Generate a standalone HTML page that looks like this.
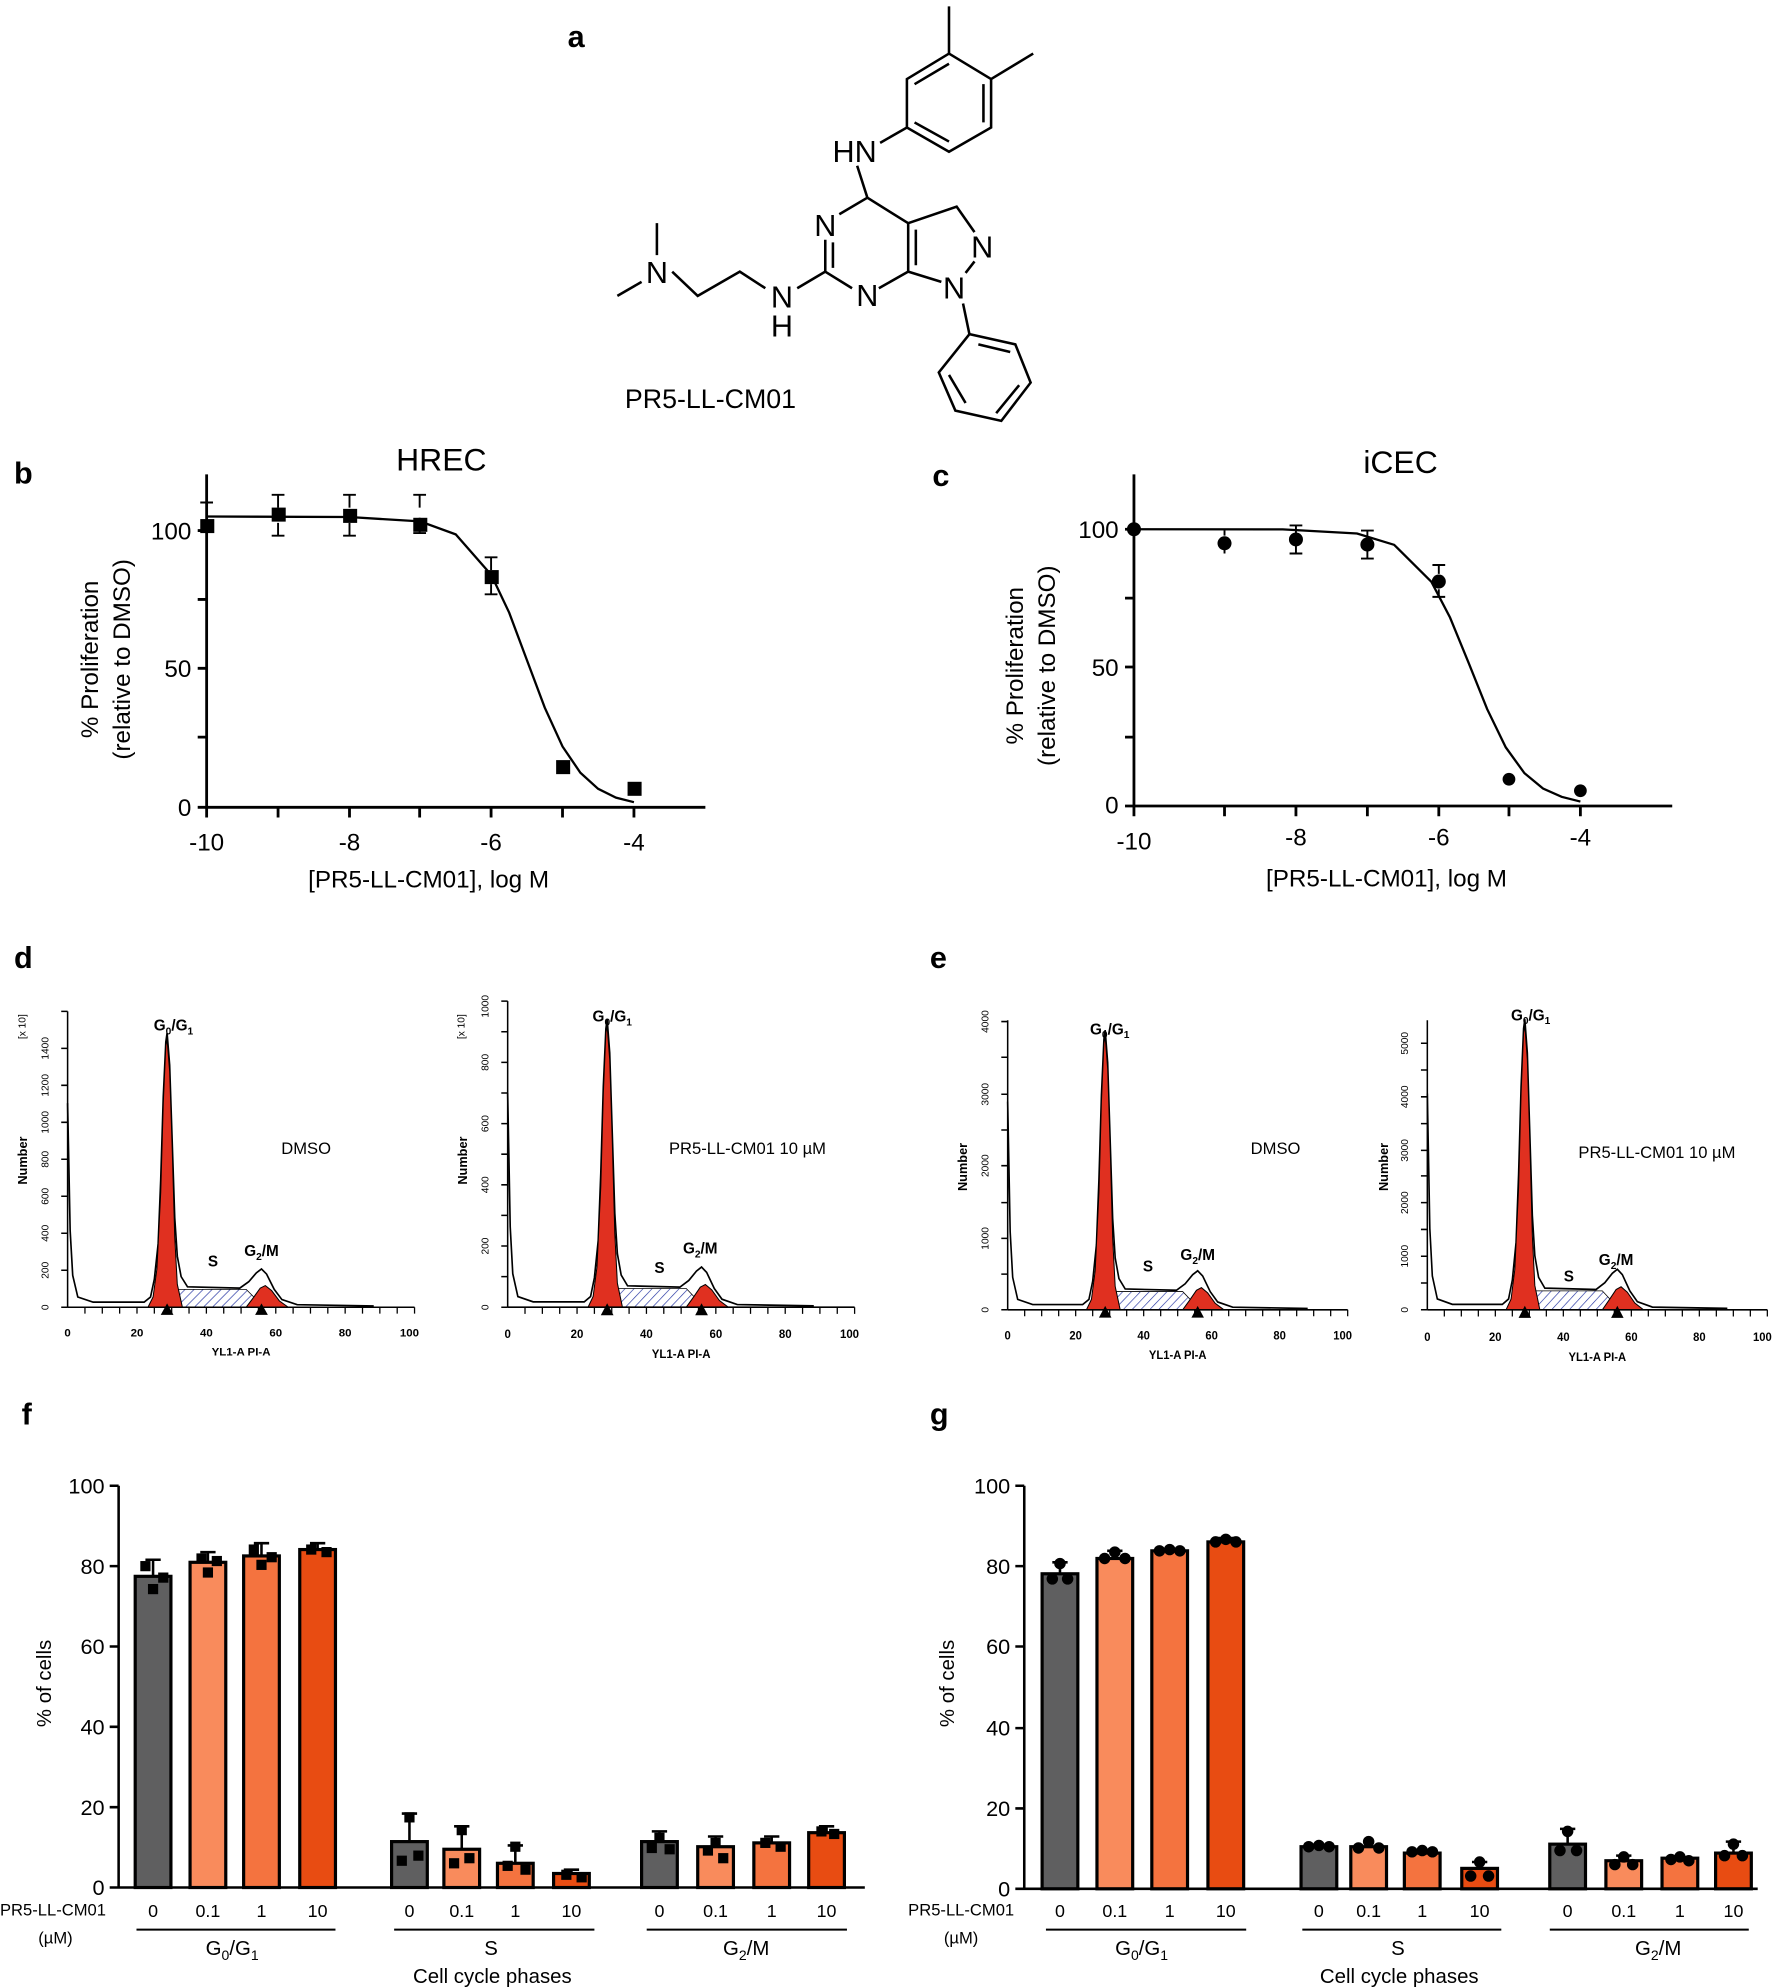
<!DOCTYPE html>
<html><head><meta charset="utf-8"><style>
html,body{margin:0;padding:0;background:#fff}
svg{display:block}
text{font-family:"Liberation Sans",Arial,sans-serif}
</style></head><body>
<svg width="1773" height="1987" viewBox="0 0 1390 1558" preserveAspectRatio="none" xmlns="http://www.w3.org/2000/svg">
<defs>
<pattern id="hatch" width="5" height="5" patternUnits="userSpaceOnUse" patternTransform="rotate(45)"><line x1="0" y1="0" x2="0" y2="5" stroke="#2030a0" stroke-width="1"/></pattern>
<g id="hist">
<path d="M70,-2 L80,-14 L140,-14 L150,-4 L140,0 L80,0Z" fill="url(#hatch)" stroke="#000" stroke-width="0.6"/>
<path d="M0,-160 L2,-60 L4,-25 L8,-8 L20,-4 L60,-4 L65,-8 L68,-22 L71,-50 L73,-100 L75,-165 L77,-208 L78,-215 L80,-190 L82,-130 L84,-70 L86,-40 L89,-24 L94,-16 L135,-15 L142,-20 L148,-27 L152,-30 L156,-26 L162,-14 L168,-6 L180,-2 L240,-1" fill="none" stroke="#000" stroke-width="1.3"/>
<path d="M63,0 L67,-8 L70,-30 L73,-90 L75,-160 L77,-205 L78,-210 L80,-185 L82,-125 L84,-55 L86,-18 L90,0Z" fill="#e03020" stroke="#000" stroke-width="0.8"/>
<path d="M140,0 L146,-8 L151,-15 L155,-17 L160,-13 L166,-5 L173,0Z" fill="#e03020" stroke="#000" stroke-width="0.8"/>
<path d="M73,6 l5,-9 l5,9Z M147,6 l5,-9 l5,9Z" fill="#000"/>
<line x1="0" y1="0" x2="272" y2="0" stroke="#000" stroke-width="1.2"/>
<path d="M13.6,0v5M27.2,0v5M40.8,0v5M54.4,0v5M68,0v5M81.6,0v5M95.2,0v5M108.8,0v5M122.4,0v5M136,0v5M149.6,0v5M163.2,0v5M176.8,0v5M190.4,0v5M204,0v5M217.6,0v5M231.2,0v5M244.8,0v5M258.4,0v5M272,0v5" stroke="#000" stroke-width="1"/>
<g font-size="9" font-weight="bold" text-anchor="middle">
<text x="0" y="23">0</text><text x="54.4" y="23">20</text><text x="108.8" y="23">40</text><text x="163.2" y="23">60</text><text x="217.6" y="23">80</text><text x="268" y="23">100</text>
<text x="136" y="38">YL1-A PI-A</text></g>
</g>
</defs>

<g font-size="24" font-weight="bold">
<text x="445" y="37">a</text><text x="11" y="379">b</text><text x="731" y="381">c</text>
<text x="11" y="759">d</text><text x="729" y="759">e</text><text x="17" y="1117">f</text><text x="729" y="1117">g</text></g>

<g stroke="#000" stroke-width="2" fill="none">
<path d="M711,62 L744,42 L777,62 L777,100 L744,119 L711,100Z"/>
<path d="M717,66 L744,50 M771,66 L771,96 M744,111 L717,96"/>
<path d="M744,42 L744,5 M777,62 L810,42 M711,100 L690,112"/>
<path d="M672,130 L680,155 L712,175 L712,213 L689,226 M680,155 L658,168 M647,188 L647,213 L668,226 M712,175 L750,162 L764,182 M764,205 L757,214 M712,213 L738,221 M718,180 L718,208 M653,190 L653,210"/>
<path d="M647,213 L625,226 M600,226 L580,213 L547,232 L527,213 M515,200 L515,175 M503,221 L484,232"/>
<path d="M755,238 L760,262"/>
<path d="M760,262 L796,270 L808,300 L785,330 L749,322 L736,292Z M767,270 L792,276 M799,302 L781,324 M744,294 L757,316"/>
</g>
<g font-size="24" text-anchor="middle">
<text x="670" y="127">HN</text><text x="647" y="185">N</text><text x="680" y="240">N</text>
<text x="770" y="202">N</text><text x="748" y="234">N</text><text x="613" y="241">N</text><text x="613" y="264">H</text>
<text x="515" y="222">N</text></g>
<text x="557" y="320" font-size="21" text-anchor="middle">PR5-LL-CM01</text>

<g stroke="#000" stroke-width="2.2" fill="none">
<path d="M162,372 V633 H553"/>
<path d="M155,416h7M155,470h7M155,524h7M155,578h7M155,633h7M162,633v8M218,633v8M274,633v8M329,633v8M385,633v8M441,633v8M497,633v8"/>
<path d="M162,405 L273.6,405.4 L329.4,408.8 L357.3,419 L385.2,450.9 L399.2,480.4 L413.1,517.6 L427.1,554.9 L441,585.3 L455,605.9 L468.9,618.5 L482.9,625.4 L497,629" stroke-width="1.8"/>
<path d="M162,402v-8M157,394h10M162,412v6 M218,398v-10M213,388h10M218,410v10M213,420h10 M274,398v-10M269,388h10M274,410v10M269,420h10 M329,398v-10M324,388h10M329,406v12M324,418h10 M385,447v-10M380,437h10M385,458v8M380,466h10" stroke-width="1.5"/>
</g>
<g fill="#000"><rect x="157" y="407" width="11" height="11"/><rect x="213" y="398" width="11" height="11"/><rect x="269" y="399" width="11" height="11"/><rect x="324" y="406" width="11" height="11"/><rect x="380" y="447" width="11" height="11"/><rect x="436" y="596" width="11" height="11"/><rect x="492" y="613" width="11" height="11"/></g>
<g font-size="19" text-anchor="end"><text x="150" y="423">100</text><text x="150" y="531">50</text><text x="150" y="640">0</text></g>
<g font-size="19" text-anchor="middle"><text x="162" y="667">-10</text><text x="274" y="667">-8</text><text x="385" y="667">-6</text><text x="497" y="667">-4</text>
<text x="336" y="696">[PR5-LL-CM01], log M</text><text x="346" y="369" font-size="25">HREC</text>
<text transform="translate(77,517) rotate(-90)">% Proliferation</text><text transform="translate(102,517) rotate(-90)">(relative to DMSO)</text></g>

<g stroke="#000" stroke-width="2.2" fill="none">
<path d="M889,372 V632 H1311"/>
<path d="M882,415h7M882,469h7M882,523h7M882,578h7M882,632h7M889,632v8M960,632v8M1016,632v8M1072,632v8M1128,632v8M1183,632v8M1239,632v8"/>
<path d="M889,415 L1005.6,415.1 L1063.9,418.3 L1093,427.2 L1122.2,456.2 L1136.8,484.2 L1151.4,519.8 L1165.9,556 L1180.5,586 L1195.1,606.2 L1209.7,618.3 L1224.3,624.8 L1239,628.5" stroke-width="1.8"/>
<path d="M1016,418v-6M1011,412h10M1016,428v6M1011,434h10 M1072,422v-6M1067,416h10M1072,432v6M1067,438h10 M1128,450v-7M1123,443h10M1128,462v6M1123,468h10 M960,420v-4M960,430v4" stroke-width="1.5"/>
</g>
<g fill="#000"><circle cx="889" cy="415" r="5.5"/><circle cx="960" cy="426" r="5.5"/><circle cx="1016" cy="423" r="5.5"/><circle cx="1072" cy="427" r="5.5"/><circle cx="1128" cy="456" r="5.5"/><circle cx="1183" cy="611" r="5"/><circle cx="1239" cy="620" r="5"/></g>
<g font-size="19" text-anchor="end"><text x="877" y="422">100</text><text x="877" y="530">50</text><text x="877" y="638">0</text></g>
<g font-size="19" text-anchor="middle"><text x="889" y="666">-10</text><text x="1016" y="663">-8</text><text x="1128" y="663">-6</text><text x="1239" y="663">-4</text>
<text x="1087" y="695">[PR5-LL-CM01], log M</text><text x="1098" y="371" font-size="25">iCEC</text>
<text transform="translate(802,522) rotate(-90)">% Proliferation</text><text transform="translate(827,522) rotate(-90)">(relative to DMSO)</text></g>

<use href="#hist" transform="translate(53,1025)"/>
<use href="#hist" transform="translate(398,1025) scale(1,1.05)"/>
<use href="#hist" transform="translate(790,1027) scale(0.98,1.02)"/>
<use href="#hist" transform="translate(1119,1027) scale(0.98,1.06)"/>
<g stroke="#000" stroke-width="1.2">
<path d="M53,793V1025M398,785V1025M790,800V1027M1119,800V1027"/>
<path d="M48,1025h5M48,996h5M48,967h5M48,938h5M48,909h5M48,880h5M48,851h5M48,822h5M48,793h5"/>
<path d="M393,1025h5M393,1001h5M393,977h5M393,953h5M393,929h5M393,905h5M393,881h5M393,857h5M393,833h5M393,809h5M393,785h5"/>
<path d="M785,1027h5M785,999h5M785,971h5M785,943h5M785,914h5M785,886h5M785,858h5M785,829h5M785,801h5"/>
<path d="M1114,1027h5M1114,1006h5M1114,985h5M1114,964h5M1114,943h5M1114,922h5M1114,902h5M1114,881h5M1114,860h5M1114,839h5M1114,818h5"/>
</g>
<g font-size="8" text-anchor="middle">
<text transform="translate(38,1025) rotate(-90)">0</text><text transform="translate(38,996) rotate(-90)">200</text><text transform="translate(38,967) rotate(-90)">400</text><text transform="translate(38,938) rotate(-90)">600</text><text transform="translate(38,909) rotate(-90)">800</text><text transform="translate(38,880) rotate(-90)">1000</text><text transform="translate(38,851) rotate(-90)">1200</text><text transform="translate(38,822) rotate(-90)">1400</text><text transform="translate(20,805) rotate(-90)">[x 10]</text>
<text transform="translate(383,1025) rotate(-90)">0</text><text transform="translate(383,977) rotate(-90)">200</text><text transform="translate(383,929) rotate(-90)">400</text><text transform="translate(383,881) rotate(-90)">600</text><text transform="translate(383,833) rotate(-90)">800</text><text transform="translate(383,789) rotate(-90)">1000</text><text transform="translate(364,805) rotate(-90)">[x 10]</text>
<text transform="translate(775,1027) rotate(-90)">0</text><text transform="translate(775,971) rotate(-90)">1000</text><text transform="translate(775,914) rotate(-90)">2000</text><text transform="translate(775,858) rotate(-90)">3000</text><text transform="translate(775,801) rotate(-90)">4000</text>
<text transform="translate(1104,1027) rotate(-90)">0</text><text transform="translate(1104,985) rotate(-90)">1000</text><text transform="translate(1104,943) rotate(-90)">2000</text><text transform="translate(1104,902) rotate(-90)">3000</text><text transform="translate(1104,860) rotate(-90)">4000</text><text transform="translate(1104,818) rotate(-90)">5000</text>
</g>
<g font-size="10" font-weight="bold" text-anchor="middle">
<text transform="translate(21,910) rotate(-90)">Number</text><text transform="translate(366,910) rotate(-90)">Number</text><text transform="translate(758,915) rotate(-90)">Number</text><text transform="translate(1088,915) rotate(-90)">Number</text></g>
<g font-size="12" font-weight="bold" text-anchor="middle">
<text x="136" y="808">G<tspan font-size="8" dy="3">0</tspan><tspan dy="-3">/G</tspan><tspan font-size="8" dy="3">1</tspan></text>
<text x="167" y="993">S</text><text x="205" y="985">G<tspan font-size="8" dy="3">2</tspan><tspan dy="-3">/M</tspan></text>
<text x="480" y="801">G<tspan font-size="8" dy="3">0</tspan><tspan dy="-3">/G</tspan><tspan font-size="8" dy="3">1</tspan></text>
<text x="517" y="998">S</text><text x="549" y="983">G<tspan font-size="8" dy="3">2</tspan><tspan dy="-3">/M</tspan></text>
<text x="870" y="811">G<tspan font-size="8" dy="3">0</tspan><tspan dy="-3">/G</tspan><tspan font-size="8" dy="3">1</tspan></text>
<text x="900" y="997">S</text><text x="939" y="988">G<tspan font-size="8" dy="3">2</tspan><tspan dy="-3">/M</tspan></text>
<text x="1200" y="800">G<tspan font-size="8" dy="3">0</tspan><tspan dy="-3">/G</tspan><tspan font-size="8" dy="3">1</tspan></text>
<text x="1230" y="1005">S</text><text x="1267" y="992">G<tspan font-size="8" dy="3">2</tspan><tspan dy="-3">/M</tspan></text>
</g>
<g font-size="13" text-anchor="middle"><text x="240" y="905">DMSO</text><text x="586" y="905">PR5-LL-CM01 10 µM</text><text x="1000" y="905">DMSO</text><text x="1299" y="908">PR5-LL-CM01 10 µM</text></g>

<g stroke="#000" stroke-width="2.5">
<rect x="106" y="1236" width="28" height="244" fill="#5f5f60"/>
<rect x="149" y="1225" width="28" height="255" fill="#f98b5c"/>
<rect x="191" y="1220" width="28" height="260" fill="#f4733f"/>
<rect x="235" y="1215" width="28" height="265" fill="#e84c12"/>
<rect x="307" y="1444" width="28" height="36" fill="#5f5f60"/>
<rect x="348" y="1450" width="28" height="30" fill="#f98b5c"/>
<rect x="390" y="1461" width="28" height="19" fill="#f4733f"/>
<rect x="434" y="1469" width="28" height="11" fill="#e84c12"/>
<rect x="503" y="1444" width="28" height="36" fill="#5f5f60"/>
<rect x="547" y="1448" width="28" height="32" fill="#f98b5c"/>
<rect x="591" y="1445" width="28" height="35" fill="#f4733f"/>
<rect x="634" y="1437" width="28" height="43" fill="#e84c12"/>
<rect x="817" y="1234" width="28" height="247" fill="#5f5f60"/>
<rect x="860" y="1222" width="28" height="259" fill="#f98b5c"/>
<rect x="903" y="1216" width="28" height="265" fill="#f4733f"/>
<rect x="947" y="1209" width="28" height="272" fill="#e84c12"/>
<rect x="1020" y="1448" width="28" height="33" fill="#5f5f60"/>
<rect x="1059" y="1448" width="28" height="33" fill="#f98b5c"/>
<rect x="1101" y="1453" width="28" height="28" fill="#f4733f"/>
<rect x="1146" y="1465" width="28" height="16" fill="#e84c12"/>
<rect x="1215" y="1446" width="28" height="35" fill="#5f5f60"/>
<rect x="1259" y="1459" width="28" height="22" fill="#f98b5c"/>
<rect x="1303" y="1457" width="28" height="24" fill="#f4733f"/>
<rect x="1345" y="1453" width="28" height="28" fill="#e84c12"/>
</g>
<g stroke="#000" stroke-width="2" fill="none">
<path d="M120,1236V1223M114,1223h12M163,1225V1217M157,1217h12M205,1220V1210M199,1210h12M249,1215V1210M243,1210h12"/>
<path d="M321,1444V1422M315,1422h12M362,1450V1432M356,1432h12M404,1461V1447M398,1447h12M448,1469V1466M442,1466h12"/>
<path d="M517,1444V1436M511,1436h12M561,1448V1440M555,1440h12M605,1445V1440M599,1440h12M648,1437V1432M642,1432h12"/>
<path d="M831,1234V1225M825,1225h12M874,1222V1216M868,1216h12M961,1209V1206M955,1206h12"/>
<path d="M1229,1446V1434M1223,1434h12M1273,1459V1455M1267,1455h12M1359,1453V1444M1353,1444h12M1160,1465V1460M1154,1460h12"/>
</g>
<g fill="#000">
<rect x="110" y="1224" width="8" height="8"/><rect x="124" y="1233" width="8" height="8"/><rect x="116" y="1242" width="8" height="8"/>
<rect x="154" y="1218" width="8" height="8"/><rect x="166" y="1220" width="8" height="8"/><rect x="159" y="1229" width="8" height="8"/>
<rect x="195" y="1211" width="8" height="8"/><rect x="209" y="1217" width="8" height="8"/><rect x="201" y="1223" width="8" height="8"/>
<rect x="240" y="1211" width="8" height="8"/><rect x="252" y="1213" width="8" height="8"/>
<rect x="317" y="1421" width="8" height="8"/><rect x="324" y="1451" width="8" height="8"/><rect x="311" y="1455" width="8" height="8"/>
<rect x="358" y="1431" width="8" height="8"/><rect x="364" y="1453" width="8" height="8"/><rect x="352" y="1457" width="8" height="8"/>
<rect x="400" y="1444" width="8" height="8"/><rect x="394" y="1459" width="8" height="8"/><rect x="408" y="1462" width="8" height="8"/>
<rect x="440" y="1466" width="8" height="8"/><rect x="452" y="1468" width="8" height="8"/>
<rect x="513" y="1437" width="8" height="8"/><rect x="507" y="1445" width="8" height="8"/><rect x="521" y="1446" width="8" height="8"/>
<rect x="557" y="1441" width="8" height="8"/><rect x="551" y="1447" width="8" height="8"/><rect x="563" y="1453" width="8" height="8"/>
<rect x="596" y="1441" width="8" height="8"/><rect x="608" y="1444" width="8" height="8"/>
<rect x="640" y="1432" width="8" height="8"/><rect x="650" y="1434" width="8" height="8"/>
<circle cx="831" cy="1226" r="4.5"/><circle cx="825" cy="1238" r="4.5"/><circle cx="837" cy="1238" r="4.5"/>
<circle cx="874" cy="1217" r="4.5"/><circle cx="866" cy="1222" r="4.5"/><circle cx="882" cy="1222" r="4.5"/>
<circle cx="909" cy="1216" r="4.5"/><circle cx="917" cy="1215" r="4.5"/><circle cx="925" cy="1216" r="4.5"/>
<circle cx="953" cy="1209" r="4.5"/><circle cx="961" cy="1207" r="4.5"/><circle cx="969" cy="1209" r="4.5"/>
<circle cx="1026" cy="1448" r="4.5"/><circle cx="1034" cy="1447" r="4.5"/><circle cx="1042" cy="1448" r="4.5"/>
<circle cx="1065" cy="1449" r="4.5"/><circle cx="1073" cy="1444" r="4.5"/><circle cx="1081" cy="1449" r="4.5"/>
<circle cx="1107" cy="1452" r="4.5"/><circle cx="1115" cy="1451" r="4.5"/><circle cx="1123" cy="1452" r="4.5"/>
<circle cx="1160" cy="1460" r="4.5"/><circle cx="1153" cy="1471" r="4.5"/><circle cx="1167" cy="1471" r="4.5"/>
<circle cx="1229" cy="1436" r="4.5"/><circle cx="1223" cy="1451" r="4.5"/><circle cx="1236" cy="1451" r="4.5"/>
<circle cx="1266" cy="1462" r="4.5"/><circle cx="1273" cy="1456" r="4.5"/><circle cx="1280" cy="1462" r="4.5"/>
<circle cx="1310" cy="1458" r="4.5"/><circle cx="1317" cy="1456" r="4.5"/><circle cx="1324" cy="1459" r="4.5"/>
<circle cx="1359" cy="1446" r="4.5"/><circle cx="1352" cy="1455" r="4.5"/><circle cx="1366" cy="1455" r="4.5"/>
</g>
<g stroke="#000" stroke-width="2" fill="none">
<path d="M93,1165V1480H678M86,1165h7M86,1228h7M86,1291h7M86,1354h7M86,1417h7M86,1480h7"/>
<path d="M803,1165V1481H1378M796,1165h7M796,1228h7M796,1291h7M796,1355h7M796,1418h7M796,1481h7"/>
<path d="M107,1513H263M309,1513H466M507,1513H664M820,1513H977M1021,1513H1177M1215,1513H1371" stroke-width="1.5"/>
</g>
<g font-size="17" text-anchor="end">
<text x="82" y="1171">100</text><text x="82" y="1234">80</text><text x="82" y="1297">60</text><text x="82" y="1360">40</text><text x="82" y="1423">20</text><text x="82" y="1486">0</text>
<text x="792" y="1171">100</text><text x="792" y="1234">80</text><text x="792" y="1297">60</text><text x="792" y="1361">40</text><text x="792" y="1424">20</text><text x="792" y="1487">0</text></g>
<g font-size="14" text-anchor="middle">
<text x="120" y="1503">0</text><text x="163" y="1503">0.1</text><text x="205" y="1503">1</text><text x="249" y="1503">10</text>
<text x="321" y="1503">0</text><text x="362" y="1503">0.1</text><text x="404" y="1503">1</text><text x="448" y="1503">10</text>
<text x="517" y="1503">0</text><text x="561" y="1503">0.1</text><text x="605" y="1503">1</text><text x="648" y="1503">10</text>
<text x="831" y="1503">0</text><text x="874" y="1503">0.1</text><text x="917" y="1503">1</text><text x="961" y="1503">10</text>
<text x="1034" y="1503">0</text><text x="1073" y="1503">0.1</text><text x="1115" y="1503">1</text><text x="1160" y="1503">10</text>
<text x="1229" y="1503">0</text><text x="1273" y="1503">0.1</text><text x="1317" y="1503">1</text><text x="1359" y="1503">10</text>
</g>
<g font-size="13"><text x="0" y="1502">PR5-LL-CM01</text><text x="30" y="1524">(µM)</text><text x="712" y="1502">PR5-LL-CM01</text><text x="740" y="1524">(µM)</text></g>
<g font-size="16" text-anchor="middle">
<text x="182" y="1533">G<tspan font-size="11" dy="4">0</tspan><tspan dy="-4">/G</tspan><tspan font-size="11" dy="4">1</tspan></text>
<text x="385" y="1533">S</text><text x="585" y="1533">G<tspan font-size="11" dy="4">2</tspan><tspan dy="-4">/M</tspan></text>
<text x="895" y="1533">G<tspan font-size="11" dy="4">0</tspan><tspan dy="-4">/G</tspan><tspan font-size="11" dy="4">1</tspan></text>
<text x="1096" y="1533">S</text><text x="1300" y="1533">G<tspan font-size="11" dy="4">2</tspan><tspan dy="-4">/M</tspan></text>
<text x="386" y="1555">Cell cycle phases</text><text x="1097" y="1555">Cell cycle phases</text>
<text transform="translate(40,1320) rotate(-90)">% of cells</text><text transform="translate(748,1320) rotate(-90)">% of cells</text></g>
</svg>
</body></html>
